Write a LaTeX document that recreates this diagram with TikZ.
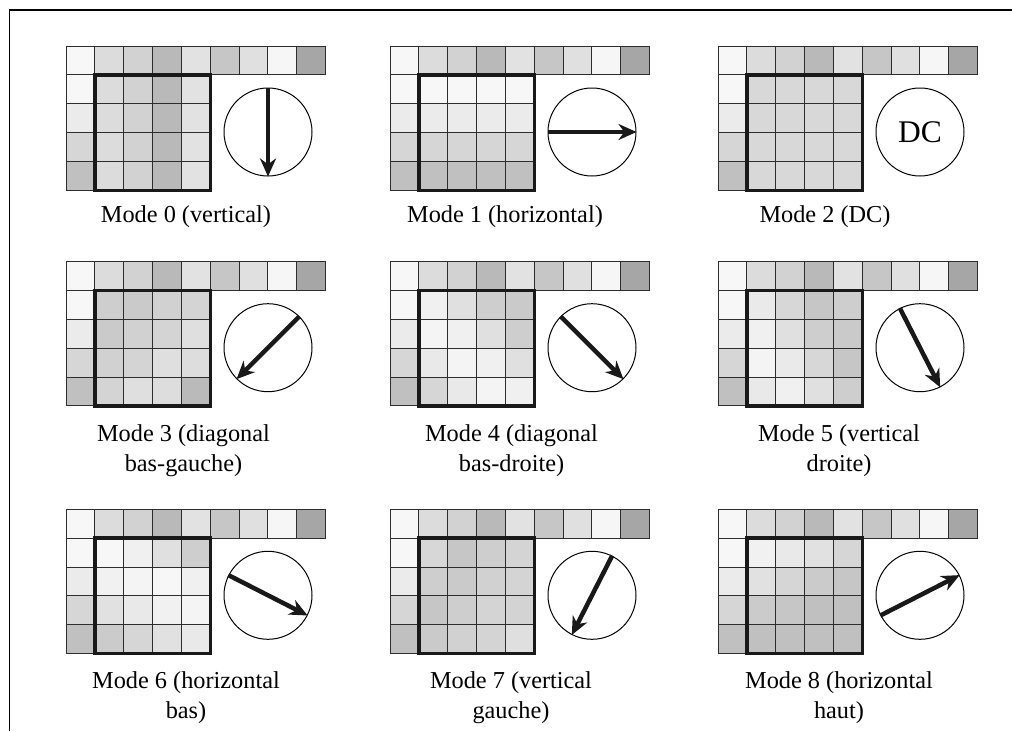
\documentclass[tikz,border=0pt]{standalone}
\usepackage{fontspec}
\setmainfont{Liberation Serif}
\usetikzlibrary{arrows.meta}
\definecolor{gridc}{RGB}{45,45,45}
\def\cs{28.85}
\newcommand{\predgrid}[3]{%
 \begin{scope}[shift={(#1,#2)}]
  \foreach \v [count=\i from 0] in {247,220,210,185,226,198,224,246,166}{
    \definecolor{cc}{RGB}{\v,\v,\v}
    \filldraw[cell] (\i*\cs,0) rectangle ++(\cs,\cs);}
  \foreach \v [count=\j from 1] in {247,235,214,192}{
    \definecolor{cc}{RGB}{\v,\v,\v}
    \filldraw[cell] (0,\j*\cs) rectangle ++(\cs,\cs);}
  \foreach \v [count=\k from 0] in {#3}{
    \pgfmathtruncatemacro\cx{mod(\k,4)+1}
    \pgfmathtruncatemacro\cy{div(\k,4)+1}
    \definecolor{cc}{RGB}{\v,\v,\v}
    \filldraw[cell] (\cx*\cs,\cy*\cs) rectangle ++(\cs,\cs);}
  \draw[bigbox] (\cs,\cs) rectangle (5*\cs,5*\cs);
 \end{scope}}
\begin{document}
\begin{tikzpicture}[x=1pt,y=-1pt,
  cell/.style={fill=cc,draw=gridc,line width=1pt},
  bigbox/.style={draw=black!90,line width=3.5pt},
  circ/.style={circle,draw=black,line width=1pt,minimum size=88pt,inner sep=0pt},
  arr/.style={line width=4.5pt,draw=black!90,-{Stealth[length=18pt,width=16pt]}},
  captext/.style={font=\fontsize{24.3}{30}\selectfont,inner sep=0pt,align=center}]
\useasboundingbox (0,0) rectangle (1012,731);
\fill[white] (0,0) rectangle (1012,731);
\draw[line width=1.5pt] (9.5,731) -- (9.5,10) -- (1012,10);

% row 1
\predgrid{66}{46}{220,210,185,226,220,210,185,226,220,210,185,226,220,210,185,226}
\predgrid{390}{46}{247,247,247,247,235,235,235,235,214,214,214,214,192,192,192,192}
\predgrid{718}{46}{216,216,216,216,216,216,216,216,216,216,216,216,216,216,216,216}
% row 2
\predgrid{66}{261.7}{206,202,209,212,202,209,212,223,209,212,223,221,212,223,221,186}
\predgrid{390}{261.7}{240,224,206,202,244,240,224,206,233,244,240,224,214,233,244,240}
\predgrid{718}{261.7}{234,215,198,206,240,224,206,202,244,234,215,198,233,240,224,206}
% row 3
\predgrid{66}{509.3}{247,240,224,206,241,244,247,240,225,233,241,244,203,214,225,233}
\predgrid{390}{509.3}{215,198,206,212,206,202,209,212,198,206,212,211,202,209,212,223}
\predgrid{718}{509.3}{241,233,225,214,225,214,203,198,203,198,192,192,192,192,192,192}

% circles
\node[circ] (c0) at (268,132) {};
\node[circ] (c1) at (592,132) {};
\node[circ] (c2) at (920,132) {\fontsize{31.5}{31.5}\selectfont DC};
\node[circ] (c3) at (268,347.7) {};
\node[circ] (c4) at (592,347.7) {};
\node[circ] (c5) at (920,347.7) {};
\node[circ] (c6) at (268,595.3) {};
\node[circ] (c7) at (592,595.3) {};
\node[circ] (c8) at (920,595.3) {};

% arrows
\draw[arr] (c0.90) -- (c0.-90);
\draw[arr] (c1.180) -- (c1.0);
\draw[arr] (c3.45) -- (c3.225);
\draw[arr] (c4.135) -- (c4.-45);
\draw[arr] (c5.117) -- (c5.-63);
\draw[arr] (c6.153) -- (c6.-27);
\draw[arr] (c7.63) -- (c7.243);
\draw[arr] (c8.207) -- (c8.27);

% captions (base anchor = baseline of last line)
\node[captext,anchor=base] (t0) at (186,222.7) {Mode 0 (vertical)};
\node[captext,anchor=base] (t1) at (505,222.7) {Mode 1 (horizontal)};
\node[captext,anchor=base] (t2) at (825,222.7) {Mode 2 (DC)};
\node[captext,anchor=base] (t3) at (183.5,471.7) {Mode 3 (diagonal\\bas-gauche)};
\node[captext,anchor=base] (t4) at (511.5,471.7) {Mode 4 (diagonal\\bas-droite)};
\node[captext,anchor=base] (t5) at (839,471.7) {Mode 5 (vertical\\droite)};
\node[captext,anchor=base] (t6) at (186,718) {Mode 6 (horizontal\\bas)};
\node[captext,anchor=base] (t7) at (511,718) {Mode 7 (vertical\\gauche)};
\node[captext,anchor=base] (t8) at (839,718) {Mode 8 (horizontal\\haut)};
\end{tikzpicture}
\end{document}
